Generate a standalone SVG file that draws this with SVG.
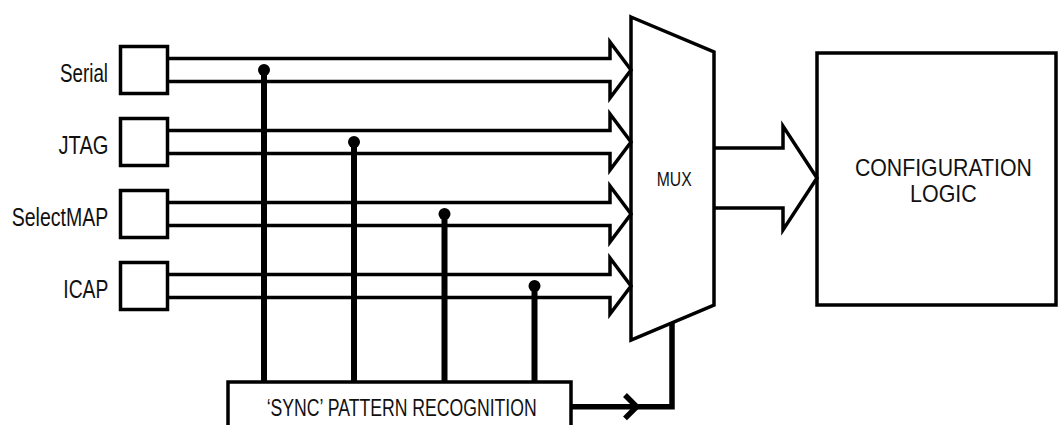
<svg xmlns="http://www.w3.org/2000/svg" width="1058" height="425" viewBox="0 0 1058 425">
  <style>
    .box { fill: #fff; stroke: #000; stroke-width: 3.5; }
    .bus { fill: none; stroke: #000; stroke-width: 3.5; stroke-linejoin: miter; }
    .tap { fill: none; stroke: #000; stroke-width: 6; }
    .ctl { fill: none; stroke: #000; stroke-width: 5.5; stroke-linejoin: miter; }
    .dot { fill: #000; }
    text { font-family: "Liberation Sans", Arial, sans-serif; fill: #111; }
    .lbl { font-size: 25px; }
    .mid { text-anchor: middle; }
  </style>
  <rect width="1058" height="425" fill="#fff"/>

  <!-- input ports -->
  <g id="port-serial">
    <rect class="box" x="120.5" y="46.5" width="47" height="47"/>
    <text class="lbl" x="60" y="82" textLength="48" lengthAdjust="spacingAndGlyphs">Serial</text>
  </g>
  <g id="port-jtag">
    <rect class="box" x="120.5" y="118.5" width="47" height="47"/>
    <text class="lbl" x="58.5" y="154" textLength="50" lengthAdjust="spacingAndGlyphs">JTAG</text>
  </g>
  <g id="port-selectmap">
    <rect class="box" x="120.5" y="190.5" width="47" height="47"/>
    <text class="lbl" x="11.7" y="226" textLength="96.5" lengthAdjust="spacingAndGlyphs">SelectMAP</text>
  </g>
  <g id="port-icap">
    <rect class="box" x="120.5" y="262.5" width="47" height="47"/>
    <text class="lbl" x="63.3" y="298" textLength="45" lengthAdjust="spacingAndGlyphs">ICAP</text>
  </g>

  <!-- multiplexer -->
  <g id="mux">
    <polygon class="box" points="631,17 714,52 714,305 631,340"/>
    <text x="656.7" y="185.7" font-size="20" textLength="35" lengthAdjust="spacingAndGlyphs">MUX</text>
  </g>

  <!-- configuration logic -->
  <g id="config-logic">
    <rect class="box" x="817" y="53" width="239" height="252"/>
    <text class="mid" x="943.4" y="175.7" font-size="24" textLength="177" lengthAdjust="spacingAndGlyphs">CONFIGURATION</text>
    <text class="mid" x="943.4" y="201.7" font-size="24" textLength="66.7" lengthAdjust="spacingAndGlyphs">LOGIC</text>
  </g>

  <!-- sync detector -->
  <g id="sync-detect">
    <rect class="box" x="228" y="382" width="343" height="60"/>
    <text x="266.7" y="416" font-size="23" textLength="270" lengthAdjust="spacingAndGlyphs">‘SYNC’ PATTERN RECOGNITION</text>
  </g>

  <g id="connectors">
    <!-- wide bus arrows into the mux -->
    <path class="bus" d="M167.5,58.5 H610 V42 L631,70 L610,98 V81.5 H167.5"/>
    <path class="bus" d="M167.5,130.5 H610 V114 L631,142 L610,170 V153.5 H167.5"/>
    <path class="bus" d="M167.5,202.5 H610 V186 L631,214 L610,242 V225.5 H167.5"/>
    <path class="bus" d="M167.5,274.5 H610 V258 L631,286 L610,314 V297.5 H167.5"/>

    <!-- mux output bus -->
    <path class="bus" d="M714,148 H783 V126 L817,178 L783,230 V208 H714"/>

    <!-- bus taps feeding the sync detector -->
    <line class="tap" x1="264" y1="70" x2="264" y2="382"/>
    <line class="tap" x1="354" y1="142" x2="354" y2="382"/>
    <line class="tap" x1="444.5" y1="214" x2="444.5" y2="382"/>
    <line class="tap" x1="534.5" y1="286" x2="534.5" y2="382"/>
    <circle class="dot" cx="264" cy="70" r="6"/>
    <circle class="dot" cx="354" cy="142" r="6"/>
    <circle class="dot" cx="444.5" cy="214" r="6"/>
    <circle class="dot" cx="534.5" cy="286" r="6"/>

    <!-- select line to the mux -->
    <path class="ctl" d="M571,406.7 H672 V322"/>
    <polyline class="ctl" points="625,395 636.7,406.7 625,418.4"/>
  </g>
</svg>
